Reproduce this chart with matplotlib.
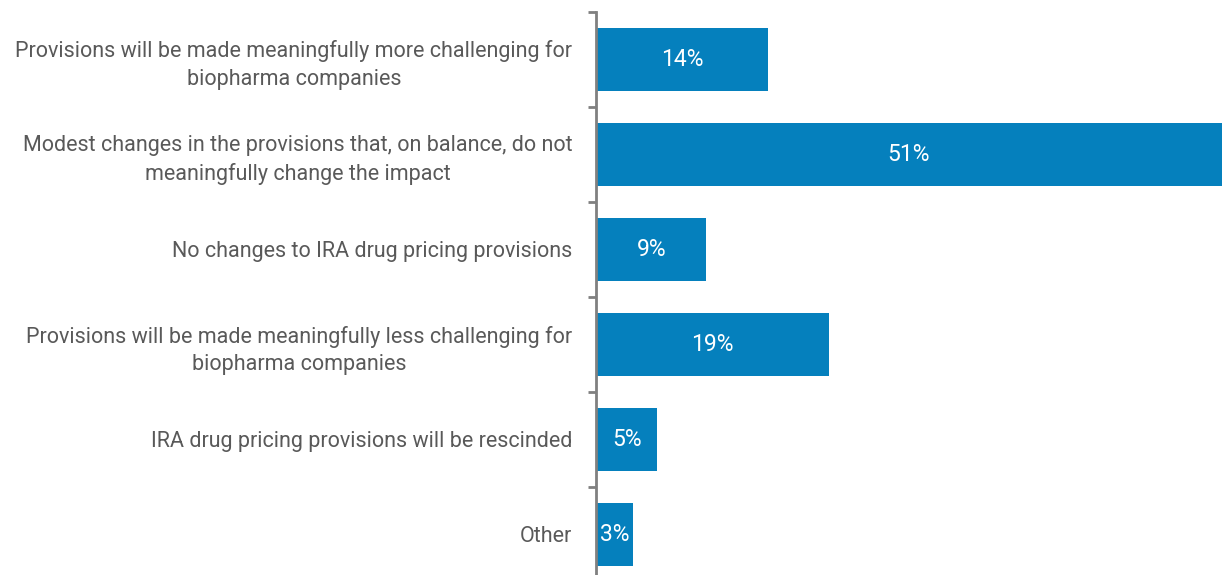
import matplotlib.pyplot as plt
import numpy as np

categories = [
    "Provisions will be made meaningfully more challenging for\nbiopharma companies",
    "Modest changes in the provisions that, on balance, do not\nmeaningfully change the impact",
    "No changes to IRA drug pricing provisions",
    "Provisions will be made meaningfully less challenging for\nbiopharma companies",
    "IRA drug pricing provisions will be rescinded",
    "Other",
]
values = [14, 51, 9, 19, 5, 3]

plt.rcParams["font.family"] = ["Roboto", "DejaVu Sans"]

bar_color = "#0580bd"
text_color = "#595959"
axis_color = "#808080"

fig = plt.figure(figsize=(12.22, 5.75), dpi=100)
ax = fig.add_axes([596 / 1222, (575 - 582) / 575, 626 / 1222, 570 / 575])

y = np.arange(len(categories))
ax.barh(y, values, height=0.66, color=bar_color)
for yi, v in zip(y, values):
    ax.text(v / 2, yi, f"{v}%", ha="center", va="center", color="white", fontsize=16.5)

ax.set_xlim(0, 51)
ax.set_ylim(len(categories) - 0.5, -0.5)

# boundary ticks on the axis, category labels centred on the bars
ax.set_yticks(np.arange(-0.5, len(categories), 1.0))
ax.set_yticklabels([])
ax.tick_params(axis="y", which="major", length=6, width=2, color=axis_color, direction="out")
ax.set_yticks(y, minor=True)
ax.set_yticklabels(categories, minor=True, fontsize=15.5, color=text_color,
                   multialignment="center", linespacing=1.4)
ax.tick_params(axis="y", which="minor", length=0, pad=17)

ax.set_xticks([])
for s in ["top", "right", "bottom"]:
    ax.spines[s].set_visible(False)
ax.spines["left"].set_color(axis_color)
ax.spines["left"].set_linewidth(2)

fig.savefig("out.png", dpi=100)
